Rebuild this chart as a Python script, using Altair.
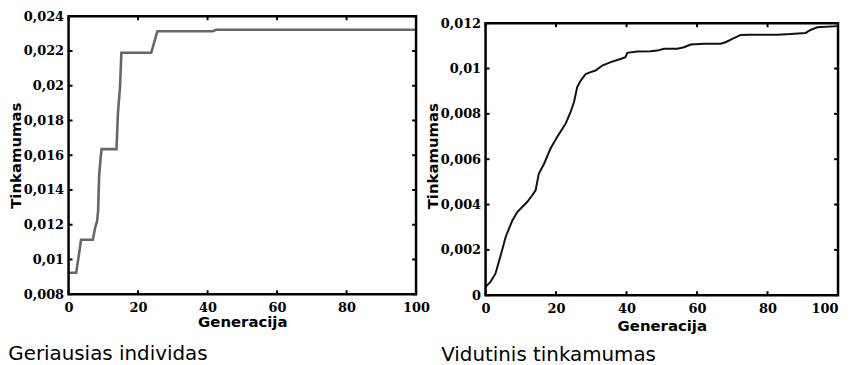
import altair as alt
import pandas as pd

# ---- data ----
best_gen = [0, 2.2, 3.0, 3.6, 7.0, 7.6, 8.2, 8.5, 8.8, 9.2, 9.5, 13.8, 14.2, 14.8, 15.2,
            23.8, 24.5, 25.2, 25.6, 41.5, 42.5, 100]
best_fit = [0.00924, 0.00924, 0.0103, 0.01114, 0.01114, 0.0118, 0.0122, 0.0128, 0.0148,
            0.0158, 0.01635, 0.01635, 0.0184, 0.0199, 0.0219, 0.0219, 0.0224, 0.0229,
            0.02314, 0.02314, 0.02322, 0.02322]

avg_gen = [0, 1.4, 2.8, 4.3, 5.7, 7.6, 9.0, 10.4, 11.8, 13.2, 14.2, 15.1, 16.6, 18.4, 20.3,
           22.7, 24.1, 25.1, 26.0, 27.0, 28.4, 29.8, 31.2, 33.1, 35.5, 38.3, 39.7, 40.2,
           43.0, 46.8, 48.7, 50.6, 54.4, 56.3, 58.2, 62.0, 66.7, 68.1, 70.0, 72.4, 75.2,
           82.8, 86.5, 90.8, 92.2, 94.1, 100]
avg_fit = [0.00037, 0.00059, 0.00095, 0.00176, 0.00257, 0.0033, 0.00367, 0.00389, 0.00411,
           0.0044, 0.00463, 0.00536, 0.0058, 0.00646, 0.00698, 0.00756, 0.00808, 0.00852,
           0.00918, 0.00947, 0.00976, 0.00984, 0.00991, 0.01013, 0.01028, 0.01042, 0.0105,
           0.01069, 0.01075, 0.01076, 0.01079, 0.01087, 0.01087, 0.01094, 0.01106, 0.01109,
           0.01109, 0.01116, 0.01131, 0.01148, 0.01149, 0.01149, 0.01152, 0.01157, 0.0117,
           0.01182, 0.01187]

best_yticks = [0.008, 0.010, 0.012, 0.014, 0.016, 0.018, 0.020, 0.022, 0.024]
avg_yticks = [0, 0.002, 0.004, 0.006, 0.008, 0.010, 0.012]
x_ticks = [0, 20, 40, 60, 80, 100]

x_title = "Generacija"
y_title = "Tinkamumas"
sub_left = "Geriausias individas"
sub_right = "Vidutinis tinkamumas"

TL = 4  # inward tick length


def panel(gen, fit, yticks, frame_lo, frame_hi, dom_hi, w, h, color, sw, subtitle,
          sub_dx, sub_offset, x_title_pad, right_flush):
    df = pd.DataFrame({"g": gen, "f": fit})
    xs = alt.Scale(domain=[0, 100], nice=False, zero=False)
    ys = alt.Scale(domain=[frame_lo, dom_hi], nice=False, zero=False)
    if right_flush:
        lab_align = {"condition": {"test": "datum.value >= 100", "value": "right"}, "value": "center"}
    else:
        lab_align = "center"
    xaxis = alt.Axis(title=x_title, values=x_ticks, labelFlush=False, labelAlign=lab_align,
                     labelPadding=7, titlePadding=x_title_pad, format="d")
    yaxis = alt.Axis(title=y_title, values=yticks, format=".3~f",
                     labelExpr="replace(datum.label, '.', ',')",
                     labelPadding=5, titlePadding=0)
    line = alt.Chart(df).mark_line(color=color, strokeWidth=sw).encode(
        x=alt.X("g:Q", scale=xs, axis=xaxis),
        y=alt.Y("f:Q", scale=ys, axis=yaxis),
    )
    ydf = pd.DataFrame({"f": yticks})
    xdf = pd.DataFrame({"g": x_ticks})
    one = pd.DataFrame({"k": [0]})
    rule = dict(color="black", strokeWidth=2)
    yl = alt.Chart(ydf).mark_rule(**rule).encode(
        y=alt.Y("f:Q", scale=ys, axis=yaxis), x=alt.value(0), x2=alt.value(TL))
    yr = alt.Chart(ydf).mark_rule(**rule).encode(
        y=alt.Y("f:Q", scale=ys, axis=yaxis), x=alt.value(w - TL), x2=alt.value(w))
    xb = alt.Chart(xdf).mark_rule(yOffset=-TL, **rule).encode(
        x=alt.X("g:Q", scale=xs, axis=xaxis),
        y=alt.Y(datum=frame_lo, scale=ys, axis=yaxis), y2=alt.Y2(datum=frame_lo))
    xt = alt.Chart(xdf).mark_rule(y2Offset=TL, **rule).encode(
        x=alt.X("g:Q", scale=xs, axis=xaxis),
        y=alt.Y(datum=frame_hi, scale=ys, axis=yaxis), y2=alt.Y2(datum=frame_hi))
    frame = alt.Chart(one).mark_rect(fillOpacity=0, stroke="black", strokeWidth=2.5).encode(
        x=alt.X(datum=0, scale=xs, axis=xaxis), x2=alt.X2(datum=100),
        y=alt.Y(datum=frame_lo, scale=ys, axis=yaxis), y2=alt.Y2(datum=frame_hi))
    ch = alt.layer(line, yl, yr, xb, xt, frame).properties(
        width=w, height=h,
        title=alt.TitleParams(text=subtitle, orient="bottom", anchor="start",
                              font="DejaVu Sans", fontSize=20, fontWeight="normal",
                              color="black", offset=sub_offset, dx=sub_dx),
    )
    return ch


left = panel(best_gen, best_fit, best_yticks, 0.008, 0.024, 0.024, 350, 280, "#676767", 2.6,
             sub_left, 0, 14, 1, False)
right = panel(avg_gen, avg_fit, avg_yticks, 0, 0.012, 0.012 * 281 / 274, 355, 281, "#111111",
              2.0, sub_right, 16, 11, 4, True)

chart = alt.hconcat(left, right, spacing=-5).properties(
    padding={"top": 1, "left": 0, "right": 0, "bottom": 0}, background="white"
).configure_view(
    stroke=None
).configure_axis(
    labelFont="DejaVu Serif", labelFontWeight="bold", labelFontSize=13, labelColor="black",
    titleFont="DejaVu Sans", titleFontWeight="bold", titleFontSize=15, titleColor="black",
    domain=False, ticks=False, grid=False,
).configure_title(anchor="start")

chart.save("out.html", embed_options={"renderer": "svg", "actions": False})
